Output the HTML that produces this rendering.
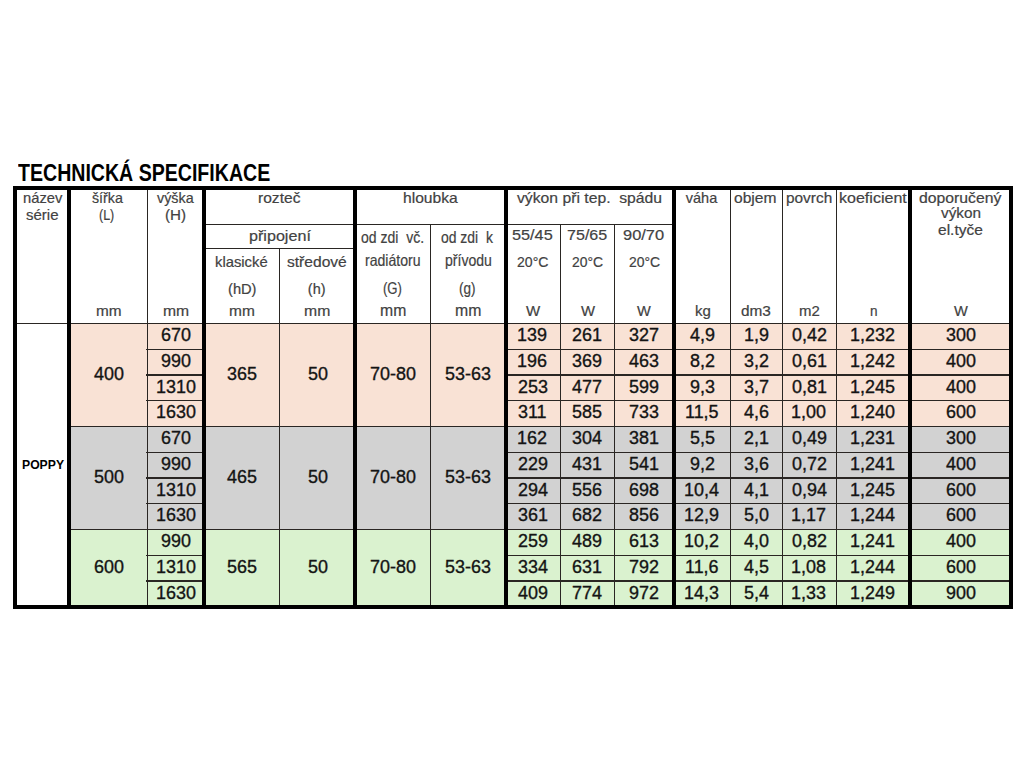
<!DOCTYPE html>
<html><head><meta charset="utf-8"><style>
html,body{margin:0;padding:0;background:#fff;width:1024px;height:768px;overflow:hidden}
body>div{position:absolute}
.t{font-family:'Liberation Sans', sans-serif;white-space:pre;transform-origin:0 0}
.d{-webkit-text-stroke:0.35px #141414}
.h{-webkit-text-stroke:0.2px #424242}
</style></head><body>
<div style="left:71px;top:323.5px;width:938px;height:103px;background:#f9e2d5"></div>
<div style="left:71px;top:426.5px;width:938px;height:103px;background:#d2d2d2"></div>
<div style="left:71px;top:529.5px;width:938px;height:76.5px;background:#daf2cf"></div>
<div style="left:206px;top:224px;width:466px;height:1.2px;background:#2a2623"></div>
<div style="left:206px;top:247.9px;width:147px;height:1.2px;background:#2a2623"></div>
<div style="left:17px;top:322.9px;width:992px;height:1.2px;background:#2a2623"></div>
<div style="left:146px;top:348.65px;width:58px;height:1.2px;background:#2a2623"></div>
<div style="left:507px;top:348.65px;width:502px;height:1.2px;background:#2a2623"></div>
<div style="left:146px;top:374.4px;width:58px;height:1.2px;background:#2a2623"></div>
<div style="left:507px;top:374.4px;width:502px;height:1.2px;background:#2a2623"></div>
<div style="left:146px;top:400.15px;width:58px;height:1.2px;background:#2a2623"></div>
<div style="left:507px;top:400.15px;width:502px;height:1.2px;background:#2a2623"></div>
<div style="left:71px;top:425.9px;width:938px;height:1.2px;background:#2a2623"></div>
<div style="left:146px;top:451.65px;width:58px;height:1.2px;background:#2a2623"></div>
<div style="left:507px;top:451.65px;width:502px;height:1.2px;background:#2a2623"></div>
<div style="left:146px;top:477.4px;width:58px;height:1.2px;background:#2a2623"></div>
<div style="left:507px;top:477.4px;width:502px;height:1.2px;background:#2a2623"></div>
<div style="left:146px;top:503.15px;width:58px;height:1.2px;background:#2a2623"></div>
<div style="left:507px;top:503.15px;width:502px;height:1.2px;background:#2a2623"></div>
<div style="left:71px;top:528.9px;width:938px;height:1.2px;background:#2a2623"></div>
<div style="left:146px;top:554.65px;width:58px;height:1.2px;background:#2a2623"></div>
<div style="left:507px;top:554.65px;width:502px;height:1.2px;background:#2a2623"></div>
<div style="left:146px;top:580.4px;width:58px;height:1.2px;background:#2a2623"></div>
<div style="left:507px;top:580.4px;width:502px;height:1.2px;background:#2a2623"></div>
<div style="left:146.9px;top:188px;width:1.2px;height:418px;background:#2a2623"></div>
<div style="left:278.7px;top:248.5px;width:1.2px;height:357.5px;background:#2a2623"></div>
<div style="left:429.9px;top:224.6px;width:1.2px;height:381.4px;background:#2a2623"></div>
<div style="left:559.7px;top:224.6px;width:1.2px;height:381.4px;background:#2a2623"></div>
<div style="left:614px;top:224.6px;width:1.2px;height:381.4px;background:#2a2623"></div>
<div style="left:729.8px;top:188px;width:1.2px;height:418px;background:#2a2623"></div>
<div style="left:781.8px;top:188px;width:1.2px;height:418px;background:#2a2623"></div>
<div style="left:836.2px;top:188px;width:1.2px;height:418px;background:#2a2623"></div>
<div style="left:13px;top:185.8px;width:4px;height:422.7px;background:#000"></div>
<div style="left:67px;top:185.8px;width:4px;height:422.7px;background:#000"></div>
<div style="left:202.3px;top:185.8px;width:3.7px;height:422.7px;background:#000"></div>
<div style="left:353.2px;top:185.8px;width:3.5px;height:422.7px;background:#000"></div>
<div style="left:504.1px;top:185.8px;width:3.5px;height:422.7px;background:#000"></div>
<div style="left:672.3px;top:185.8px;width:3.9px;height:422.7px;background:#000"></div>
<div style="left:908px;top:185.8px;width:3.6px;height:422.7px;background:#000"></div>
<div style="left:1009px;top:185.8px;width:3.8px;height:422.7px;background:#000"></div>
<div style="left:13px;top:186.4px;width:999.8px;height:3.9px;background:#000"></div>
<div style="left:13px;top:605px;width:999.8px;height:3.5px;background:#000"></div>
<div class="t" style="left:18.33px;top:162px;font-size:23.5px;line-height:23.5px;font-weight:700;color:#000;transform:scaleX(0.8326)">TECHNICKÁ SPECIFIKACE</div>
<div class="t h" style="left:22.6px;top:191px;font-size:14.5px;line-height:14.5px;font-weight:400;color:#424242;transform:scaleX(1.0154)">název</div>
<div class="t h" style="left:26px;top:208px;font-size:14.5px;line-height:14.5px;font-weight:400;color:#424242;transform:scaleX(1.0355)">série</div>
<div class="t h" style="left:92.3px;top:191px;font-size:14.5px;line-height:14.5px;font-weight:400;color:#424242;transform:scaleX(0.9813)">šířka</div>
<div class="t h" style="left:98.7px;top:208px;font-size:14.5px;line-height:14.5px;font-weight:400;color:#424242;transform:scaleX(0.8611)">(L)</div>
<div class="t h" style="left:157.2px;top:191px;font-size:14.5px;line-height:14.5px;font-weight:400;color:#424242;transform:scaleX(0.9895)">výška</div>
<div class="t h" style="left:165.3px;top:208px;font-size:14.5px;line-height:14.5px;font-weight:400;color:#424242;transform:scaleX(1.0450)">(H)</div>
<div class="t h" style="left:258.1px;top:191px;font-size:14.5px;line-height:14.5px;font-weight:400;color:#424242;transform:scaleX(1.0750)">rozteč</div>
<div class="t h" style="left:402.8px;top:191px;font-size:14.5px;line-height:14.5px;font-weight:400;color:#424242;transform:scaleX(1.0784)">hloubka</div>
<div class="t h" style="left:517px;top:191px;font-size:14.5px;line-height:14.5px;font-weight:400;color:#424242;transform:scaleX(1.0843)">výkon při tep.  spádu</div>
<div class="t h" style="left:685.8px;top:191px;font-size:14.5px;line-height:14.5px;font-weight:400;color:#424242;transform:scaleX(1.0000)">váha</div>
<div class="t h" style="left:734.2px;top:191px;font-size:14.5px;line-height:14.5px;font-weight:400;color:#424242;transform:scaleX(1.0750)">objem</div>
<div class="t h" style="left:786.4px;top:191px;font-size:14.5px;line-height:14.5px;font-weight:400;color:#424242;transform:scaleX(1.0614)">povrch</div>
<div class="t h" style="left:839.3px;top:191px;font-size:14.5px;line-height:14.5px;font-weight:400;color:#424242;transform:scaleX(1.1065)">koeficient</div>
<div class="t h" style="left:919px;top:191px;font-size:14.5px;line-height:14.5px;font-weight:400;color:#424242;transform:scaleX(1.0868)">doporučený</div>
<div class="t h" style="left:941px;top:206px;font-size:14.5px;line-height:14.5px;font-weight:400;color:#424242;transform:scaleX(1.0579)">výkon</div>
<div class="t h" style="left:938.1px;top:223px;font-size:14.5px;line-height:14.5px;font-weight:400;color:#424242;transform:scaleX(1.0714)">el.tyče</div>
<div class="t h" style="left:248.5px;top:229px;font-size:14.5px;line-height:14.5px;font-weight:400;color:#424242;transform:scaleX(1.1125)">připojení</div>
<div class="t h" style="left:360.6px;top:229px;font-size:16.5px;line-height:16.5px;font-weight:400;color:#424242;transform:scaleX(0.8486)">od zdi  vč.</div>
<div class="t h" style="left:441.4px;top:229px;font-size:16.5px;line-height:16.5px;font-weight:400;color:#424242;transform:scaleX(0.8444)">od zdi  k</div>
<div class="t h" style="left:512.4px;top:228px;font-size:14.5px;line-height:14.5px;font-weight:400;color:#424242;transform:scaleX(1.1222)">55/45</div>
<div class="t h" style="left:567.4px;top:228px;font-size:14.5px;line-height:14.5px;font-weight:400;color:#424242;transform:scaleX(1.1083)">75/65</div>
<div class="t h" style="left:623.1px;top:228px;font-size:14.5px;line-height:14.5px;font-weight:400;color:#424242;transform:scaleX(1.1324)">90/70</div>
<div class="t h" style="left:215.3px;top:255px;font-size:14.5px;line-height:14.5px;font-weight:400;color:#424242;transform:scaleX(1.0212)">klasické</div>
<div class="t h" style="left:286.7px;top:255px;font-size:14.5px;line-height:14.5px;font-weight:400;color:#424242;transform:scaleX(1.0750)">středové</div>
<div class="t h" style="left:364.8px;top:252px;font-size:16.5px;line-height:16.5px;font-weight:400;color:#424242;transform:scaleX(0.8538)">radiátoru</div>
<div class="t h" style="left:444.5px;top:252px;font-size:16.5px;line-height:16.5px;font-weight:400;color:#424242;transform:scaleX(0.8527)">přívodu</div>
<div class="t h" style="left:517px;top:255px;font-size:14.5px;line-height:14.5px;font-weight:400;color:#424242;transform:scaleX(0.9697)">20°C</div>
<div class="t h" style="left:571.8px;top:255px;font-size:14.5px;line-height:14.5px;font-weight:400;color:#424242;transform:scaleX(0.9576)">20°C</div>
<div class="t h" style="left:628.9px;top:255px;font-size:14.5px;line-height:14.5px;font-weight:400;color:#424242;transform:scaleX(0.9606)">20°C</div>
<div class="t h" style="left:227.9px;top:282px;font-size:14.5px;line-height:14.5px;font-weight:400;color:#424242;transform:scaleX(1.0107)">(hD)</div>
<div class="t h" style="left:307.8px;top:282px;font-size:14.5px;line-height:14.5px;font-weight:400;color:#424242;transform:scaleX(1.0000)">(h)</div>
<div class="t h" style="left:383.2px;top:280px;font-size:16.5px;line-height:16.5px;font-weight:400;color:#424242;transform:scaleX(0.7958)">(G)</div>
<div class="t h" style="left:459.4px;top:280px;font-size:16.5px;line-height:16.5px;font-weight:400;color:#424242;transform:scaleX(0.8200)">(g)</div>
<div class="t h" style="left:95.6px;top:304px;font-size:14.5px;line-height:14.5px;font-weight:400;color:#424242;transform:scaleX(1.0583)">mm</div>
<div class="t h" style="left:163px;top:304px;font-size:14.5px;line-height:14.5px;font-weight:400;color:#424242;transform:scaleX(1.0833)">mm</div>
<div class="t h" style="left:229.4px;top:304px;font-size:14.5px;line-height:14.5px;font-weight:400;color:#424242;transform:scaleX(1.0667)">mm</div>
<div class="t h" style="left:304.4px;top:304px;font-size:14.5px;line-height:14.5px;font-weight:400;color:#424242;transform:scaleX(1.0875)">mm</div>
<div class="t h" style="left:379.7px;top:302px;font-size:16.5px;line-height:16.5px;font-weight:400;color:#424242;transform:scaleX(0.9556)">mm</div>
<div class="t h" style="left:455px;top:302px;font-size:16.5px;line-height:16.5px;font-weight:400;color:#424242;transform:scaleX(0.9593)">mm</div>
<div class="t h" style="left:526px;top:304px;font-size:14.5px;line-height:14.5px;font-weight:400;color:#424242;transform:scaleX(1.0357)">W</div>
<div class="t h" style="left:580.75px;top:304px;font-size:14.5px;line-height:14.5px;font-weight:400;color:#424242;transform:scaleX(1.0250)">W</div>
<div class="t h" style="left:637.2px;top:304px;font-size:14.5px;line-height:14.5px;font-weight:400;color:#424242;transform:scaleX(1.0071)">W</div>
<div class="t h" style="left:694.7px;top:304px;font-size:14.5px;line-height:14.5px;font-weight:400;color:#424242;transform:scaleX(1.0333)">kg</div>
<div class="t h" style="left:741.2px;top:304px;font-size:14.5px;line-height:14.5px;font-weight:400;color:#424242;transform:scaleX(1.0607)">dm3</div>
<div class="t h" style="left:799.25px;top:304px;font-size:14.5px;line-height:14.5px;font-weight:400;color:#424242;transform:scaleX(1.0325)">m2</div>
<div class="t h" style="left:869.9px;top:304px;font-size:14.5px;line-height:14.5px;font-weight:400;color:#424242;transform:scaleX(0.9375)">n</div>
<div class="t h" style="left:954.1px;top:304px;font-size:14.5px;line-height:14.5px;font-weight:400;color:#424242;transform:scaleX(1.0107)">W</div>
<div class="t" style="left:21.5px;top:458px;font-size:13px;line-height:13px;font-weight:700;color:#000;transform:scaleX(0.9378)">POPPY</div>
<div class="t d" style="left:161.35px;top:326px;font-size:18px;line-height:18px;color:#141414;transform:scaleX(0.9967)">670</div>
<div class="t d" style="left:517.45px;top:326px;font-size:18px;line-height:18px;color:#141414;transform:scaleX(0.9967)">139</div>
<div class="t d" style="left:572.05px;top:326px;font-size:18px;line-height:18px;color:#141414;transform:scaleX(0.9967)">261</div>
<div class="t d" style="left:629.45px;top:326px;font-size:18px;line-height:18px;color:#141414;transform:scaleX(0.9967)">327</div>
<div class="t d" style="left:689.54px;top:326px;font-size:18px;line-height:18px;color:#141414;transform:scaleX(0.9967)">4,9</div>
<div class="t d" style="left:743.54px;top:326px;font-size:18px;line-height:18px;color:#141414;transform:scaleX(0.9967)">1,9</div>
<div class="t d" style="left:791.76px;top:326px;font-size:18px;line-height:18px;color:#141414;transform:scaleX(0.9967)">0,42</div>
<div class="t d" style="left:850.08px;top:326px;font-size:18px;line-height:18px;color:#141414;transform:scaleX(0.9967)">1,232</div>
<div class="t d" style="left:946.35px;top:326px;font-size:18px;line-height:18px;color:#141414;transform:scaleX(0.9967)">300</div>
<div class="t d" style="left:161.35px;top:352px;font-size:18px;line-height:18px;color:#141414;transform:scaleX(0.9967)">990</div>
<div class="t d" style="left:517.45px;top:352px;font-size:18px;line-height:18px;color:#141414;transform:scaleX(0.9967)">196</div>
<div class="t d" style="left:572.05px;top:352px;font-size:18px;line-height:18px;color:#141414;transform:scaleX(0.9967)">369</div>
<div class="t d" style="left:629.45px;top:352px;font-size:18px;line-height:18px;color:#141414;transform:scaleX(0.9967)">463</div>
<div class="t d" style="left:689.54px;top:352px;font-size:18px;line-height:18px;color:#141414;transform:scaleX(0.9967)">8,2</div>
<div class="t d" style="left:744.04px;top:352px;font-size:18px;line-height:18px;color:#141414;transform:scaleX(0.9967)">3,2</div>
<div class="t d" style="left:791.76px;top:352px;font-size:18px;line-height:18px;color:#141414;transform:scaleX(0.9967)">0,61</div>
<div class="t d" style="left:850.08px;top:352px;font-size:18px;line-height:18px;color:#141414;transform:scaleX(0.9967)">1,242</div>
<div class="t d" style="left:946.35px;top:352px;font-size:18px;line-height:18px;color:#141414;transform:scaleX(0.9967)">400</div>
<div class="t d" style="left:155.87px;top:378px;font-size:18px;line-height:18px;color:#141414;transform:scaleX(0.9967)">1310</div>
<div class="t d" style="left:517.95px;top:378px;font-size:18px;line-height:18px;color:#141414;transform:scaleX(0.9967)">253</div>
<div class="t d" style="left:572.05px;top:378px;font-size:18px;line-height:18px;color:#141414;transform:scaleX(0.9967)">477</div>
<div class="t d" style="left:629.45px;top:378px;font-size:18px;line-height:18px;color:#141414;transform:scaleX(0.9967)">599</div>
<div class="t d" style="left:689.54px;top:378px;font-size:18px;line-height:18px;color:#141414;transform:scaleX(0.9967)">9,3</div>
<div class="t d" style="left:744.04px;top:378px;font-size:18px;line-height:18px;color:#141414;transform:scaleX(0.9967)">3,7</div>
<div class="t d" style="left:791.76px;top:378px;font-size:18px;line-height:18px;color:#141414;transform:scaleX(0.9967)">0,81</div>
<div class="t d" style="left:850.08px;top:378px;font-size:18px;line-height:18px;color:#141414;transform:scaleX(0.9967)">1,245</div>
<div class="t d" style="left:946.35px;top:378px;font-size:18px;line-height:18px;color:#141414;transform:scaleX(0.9967)">400</div>
<div class="t d" style="left:155.87px;top:403px;font-size:18px;line-height:18px;color:#141414;transform:scaleX(0.9967)">1630</div>
<div class="t d" style="left:518.45px;top:403px;font-size:18px;line-height:18px;color:#141414;transform:scaleX(0.9967)">311</div>
<div class="t d" style="left:572.05px;top:403px;font-size:18px;line-height:18px;color:#141414;transform:scaleX(0.9967)">585</div>
<div class="t d" style="left:629.45px;top:403px;font-size:18px;line-height:18px;color:#141414;transform:scaleX(0.9967)">733</div>
<div class="t d" style="left:684.56px;top:403px;font-size:18px;line-height:18px;color:#141414;transform:scaleX(0.9967)">11,5</div>
<div class="t d" style="left:744.04px;top:403px;font-size:18px;line-height:18px;color:#141414;transform:scaleX(0.9967)">4,6</div>
<div class="t d" style="left:791.26px;top:403px;font-size:18px;line-height:18px;color:#141414;transform:scaleX(0.9967)">1,00</div>
<div class="t d" style="left:850.08px;top:403px;font-size:18px;line-height:18px;color:#141414;transform:scaleX(0.9967)">1,240</div>
<div class="t d" style="left:946.35px;top:403px;font-size:18px;line-height:18px;color:#141414;transform:scaleX(0.9967)">600</div>
<div class="t d" style="left:161.35px;top:429px;font-size:18px;line-height:18px;color:#141414;transform:scaleX(0.9967)">670</div>
<div class="t d" style="left:517.45px;top:429px;font-size:18px;line-height:18px;color:#141414;transform:scaleX(0.9967)">162</div>
<div class="t d" style="left:572.05px;top:429px;font-size:18px;line-height:18px;color:#141414;transform:scaleX(0.9967)">304</div>
<div class="t d" style="left:629.45px;top:429px;font-size:18px;line-height:18px;color:#141414;transform:scaleX(0.9967)">381</div>
<div class="t d" style="left:689.54px;top:429px;font-size:18px;line-height:18px;color:#141414;transform:scaleX(0.9967)">5,5</div>
<div class="t d" style="left:744.04px;top:429px;font-size:18px;line-height:18px;color:#141414;transform:scaleX(0.9967)">2,1</div>
<div class="t d" style="left:791.76px;top:429px;font-size:18px;line-height:18px;color:#141414;transform:scaleX(0.9967)">0,49</div>
<div class="t d" style="left:850.08px;top:429px;font-size:18px;line-height:18px;color:#141414;transform:scaleX(0.9967)">1,231</div>
<div class="t d" style="left:946.35px;top:429px;font-size:18px;line-height:18px;color:#141414;transform:scaleX(0.9967)">300</div>
<div class="t d" style="left:161.35px;top:455px;font-size:18px;line-height:18px;color:#141414;transform:scaleX(0.9967)">990</div>
<div class="t d" style="left:517.95px;top:455px;font-size:18px;line-height:18px;color:#141414;transform:scaleX(0.9967)">229</div>
<div class="t d" style="left:572.05px;top:455px;font-size:18px;line-height:18px;color:#141414;transform:scaleX(0.9967)">431</div>
<div class="t d" style="left:629.45px;top:455px;font-size:18px;line-height:18px;color:#141414;transform:scaleX(0.9967)">541</div>
<div class="t d" style="left:689.54px;top:455px;font-size:18px;line-height:18px;color:#141414;transform:scaleX(0.9967)">9,2</div>
<div class="t d" style="left:744.04px;top:455px;font-size:18px;line-height:18px;color:#141414;transform:scaleX(0.9967)">3,6</div>
<div class="t d" style="left:791.76px;top:455px;font-size:18px;line-height:18px;color:#141414;transform:scaleX(0.9967)">0,72</div>
<div class="t d" style="left:850.08px;top:455px;font-size:18px;line-height:18px;color:#141414;transform:scaleX(0.9967)">1,241</div>
<div class="t d" style="left:946.35px;top:455px;font-size:18px;line-height:18px;color:#141414;transform:scaleX(0.9967)">400</div>
<div class="t d" style="left:155.87px;top:481px;font-size:18px;line-height:18px;color:#141414;transform:scaleX(0.9967)">1310</div>
<div class="t d" style="left:517.95px;top:481px;font-size:18px;line-height:18px;color:#141414;transform:scaleX(0.9967)">294</div>
<div class="t d" style="left:572.05px;top:481px;font-size:18px;line-height:18px;color:#141414;transform:scaleX(0.9967)">556</div>
<div class="t d" style="left:629.45px;top:481px;font-size:18px;line-height:18px;color:#141414;transform:scaleX(0.9967)">698</div>
<div class="t d" style="left:684.06px;top:481px;font-size:18px;line-height:18px;color:#141414;transform:scaleX(0.9967)">10,4</div>
<div class="t d" style="left:744.04px;top:481px;font-size:18px;line-height:18px;color:#141414;transform:scaleX(0.9967)">4,1</div>
<div class="t d" style="left:791.76px;top:481px;font-size:18px;line-height:18px;color:#141414;transform:scaleX(0.9967)">0,94</div>
<div class="t d" style="left:850.08px;top:481px;font-size:18px;line-height:18px;color:#141414;transform:scaleX(0.9967)">1,245</div>
<div class="t d" style="left:946.35px;top:481px;font-size:18px;line-height:18px;color:#141414;transform:scaleX(0.9967)">600</div>
<div class="t d" style="left:155.87px;top:506px;font-size:18px;line-height:18px;color:#141414;transform:scaleX(0.9967)">1630</div>
<div class="t d" style="left:517.95px;top:506px;font-size:18px;line-height:18px;color:#141414;transform:scaleX(0.9967)">361</div>
<div class="t d" style="left:572.05px;top:506px;font-size:18px;line-height:18px;color:#141414;transform:scaleX(0.9967)">682</div>
<div class="t d" style="left:629.45px;top:506px;font-size:18px;line-height:18px;color:#141414;transform:scaleX(0.9967)">856</div>
<div class="t d" style="left:684.06px;top:506px;font-size:18px;line-height:18px;color:#141414;transform:scaleX(0.9967)">12,9</div>
<div class="t d" style="left:744.04px;top:506px;font-size:18px;line-height:18px;color:#141414;transform:scaleX(0.9967)">5,0</div>
<div class="t d" style="left:791.26px;top:506px;font-size:18px;line-height:18px;color:#141414;transform:scaleX(0.9967)">1,17</div>
<div class="t d" style="left:850.08px;top:506px;font-size:18px;line-height:18px;color:#141414;transform:scaleX(0.9967)">1,244</div>
<div class="t d" style="left:946.35px;top:506px;font-size:18px;line-height:18px;color:#141414;transform:scaleX(0.9967)">600</div>
<div class="t d" style="left:161.35px;top:532px;font-size:18px;line-height:18px;color:#141414;transform:scaleX(0.9967)">990</div>
<div class="t d" style="left:517.95px;top:532px;font-size:18px;line-height:18px;color:#141414;transform:scaleX(0.9967)">259</div>
<div class="t d" style="left:572.05px;top:532px;font-size:18px;line-height:18px;color:#141414;transform:scaleX(0.9967)">489</div>
<div class="t d" style="left:629.45px;top:532px;font-size:18px;line-height:18px;color:#141414;transform:scaleX(0.9967)">613</div>
<div class="t d" style="left:684.06px;top:532px;font-size:18px;line-height:18px;color:#141414;transform:scaleX(0.9967)">10,2</div>
<div class="t d" style="left:744.04px;top:532px;font-size:18px;line-height:18px;color:#141414;transform:scaleX(0.9967)">4,0</div>
<div class="t d" style="left:791.76px;top:532px;font-size:18px;line-height:18px;color:#141414;transform:scaleX(0.9967)">0,82</div>
<div class="t d" style="left:850.08px;top:532px;font-size:18px;line-height:18px;color:#141414;transform:scaleX(0.9967)">1,241</div>
<div class="t d" style="left:946.35px;top:532px;font-size:18px;line-height:18px;color:#141414;transform:scaleX(0.9967)">400</div>
<div class="t d" style="left:155.87px;top:558px;font-size:18px;line-height:18px;color:#141414;transform:scaleX(0.9967)">1310</div>
<div class="t d" style="left:517.95px;top:558px;font-size:18px;line-height:18px;color:#141414;transform:scaleX(0.9967)">334</div>
<div class="t d" style="left:572.05px;top:558px;font-size:18px;line-height:18px;color:#141414;transform:scaleX(0.9967)">631</div>
<div class="t d" style="left:629.45px;top:558px;font-size:18px;line-height:18px;color:#141414;transform:scaleX(0.9967)">792</div>
<div class="t d" style="left:684.56px;top:558px;font-size:18px;line-height:18px;color:#141414;transform:scaleX(0.9967)">11,6</div>
<div class="t d" style="left:744.04px;top:558px;font-size:18px;line-height:18px;color:#141414;transform:scaleX(0.9967)">4,5</div>
<div class="t d" style="left:791.26px;top:558px;font-size:18px;line-height:18px;color:#141414;transform:scaleX(0.9967)">1,08</div>
<div class="t d" style="left:850.08px;top:558px;font-size:18px;line-height:18px;color:#141414;transform:scaleX(0.9967)">1,244</div>
<div class="t d" style="left:946.35px;top:558px;font-size:18px;line-height:18px;color:#141414;transform:scaleX(0.9967)">600</div>
<div class="t d" style="left:155.87px;top:584px;font-size:18px;line-height:18px;color:#141414;transform:scaleX(0.9967)">1630</div>
<div class="t d" style="left:517.95px;top:584px;font-size:18px;line-height:18px;color:#141414;transform:scaleX(0.9967)">409</div>
<div class="t d" style="left:572.05px;top:584px;font-size:18px;line-height:18px;color:#141414;transform:scaleX(0.9967)">774</div>
<div class="t d" style="left:629.45px;top:584px;font-size:18px;line-height:18px;color:#141414;transform:scaleX(0.9967)">972</div>
<div class="t d" style="left:684.06px;top:584px;font-size:18px;line-height:18px;color:#141414;transform:scaleX(0.9967)">14,3</div>
<div class="t d" style="left:744.04px;top:584px;font-size:18px;line-height:18px;color:#141414;transform:scaleX(0.9967)">5,4</div>
<div class="t d" style="left:791.26px;top:584px;font-size:18px;line-height:18px;color:#141414;transform:scaleX(0.9967)">1,33</div>
<div class="t d" style="left:850.08px;top:584px;font-size:18px;line-height:18px;color:#141414;transform:scaleX(0.9967)">1,249</div>
<div class="t d" style="left:946.35px;top:584px;font-size:18px;line-height:18px;color:#141414;transform:scaleX(0.9967)">900</div>
<div class="t d" style="left:94.05px;top:365px;font-size:18px;line-height:18px;color:#141414;transform:scaleX(0.9967)">400</div>
<div class="t d" style="left:226.75px;top:365px;font-size:18px;line-height:18px;color:#141414;transform:scaleX(0.9967)">365</div>
<div class="t d" style="left:307.53px;top:365px;font-size:18px;line-height:18px;color:#141414;transform:scaleX(0.9967)">50</div>
<div class="t d" style="left:370.08px;top:365px;font-size:18px;line-height:18px;color:#141414;transform:scaleX(0.9967)">70-80</div>
<div class="t d" style="left:444.78px;top:365px;font-size:18px;line-height:18px;color:#141414;transform:scaleX(0.9967)">53-63</div>
<div class="t d" style="left:94.05px;top:468px;font-size:18px;line-height:18px;color:#141414;transform:scaleX(0.9967)">500</div>
<div class="t d" style="left:226.75px;top:468px;font-size:18px;line-height:18px;color:#141414;transform:scaleX(0.9967)">465</div>
<div class="t d" style="left:307.53px;top:468px;font-size:18px;line-height:18px;color:#141414;transform:scaleX(0.9967)">50</div>
<div class="t d" style="left:370.08px;top:468px;font-size:18px;line-height:18px;color:#141414;transform:scaleX(0.9967)">70-80</div>
<div class="t d" style="left:444.78px;top:468px;font-size:18px;line-height:18px;color:#141414;transform:scaleX(0.9967)">53-63</div>
<div class="t d" style="left:94.05px;top:558px;font-size:18px;line-height:18px;color:#141414;transform:scaleX(0.9967)">600</div>
<div class="t d" style="left:226.75px;top:558px;font-size:18px;line-height:18px;color:#141414;transform:scaleX(0.9967)">565</div>
<div class="t d" style="left:307.53px;top:558px;font-size:18px;line-height:18px;color:#141414;transform:scaleX(0.9967)">50</div>
<div class="t d" style="left:370.08px;top:558px;font-size:18px;line-height:18px;color:#141414;transform:scaleX(0.9967)">70-80</div>
<div class="t d" style="left:444.78px;top:558px;font-size:18px;line-height:18px;color:#141414;transform:scaleX(0.9967)">53-63</div>
</body></html>
